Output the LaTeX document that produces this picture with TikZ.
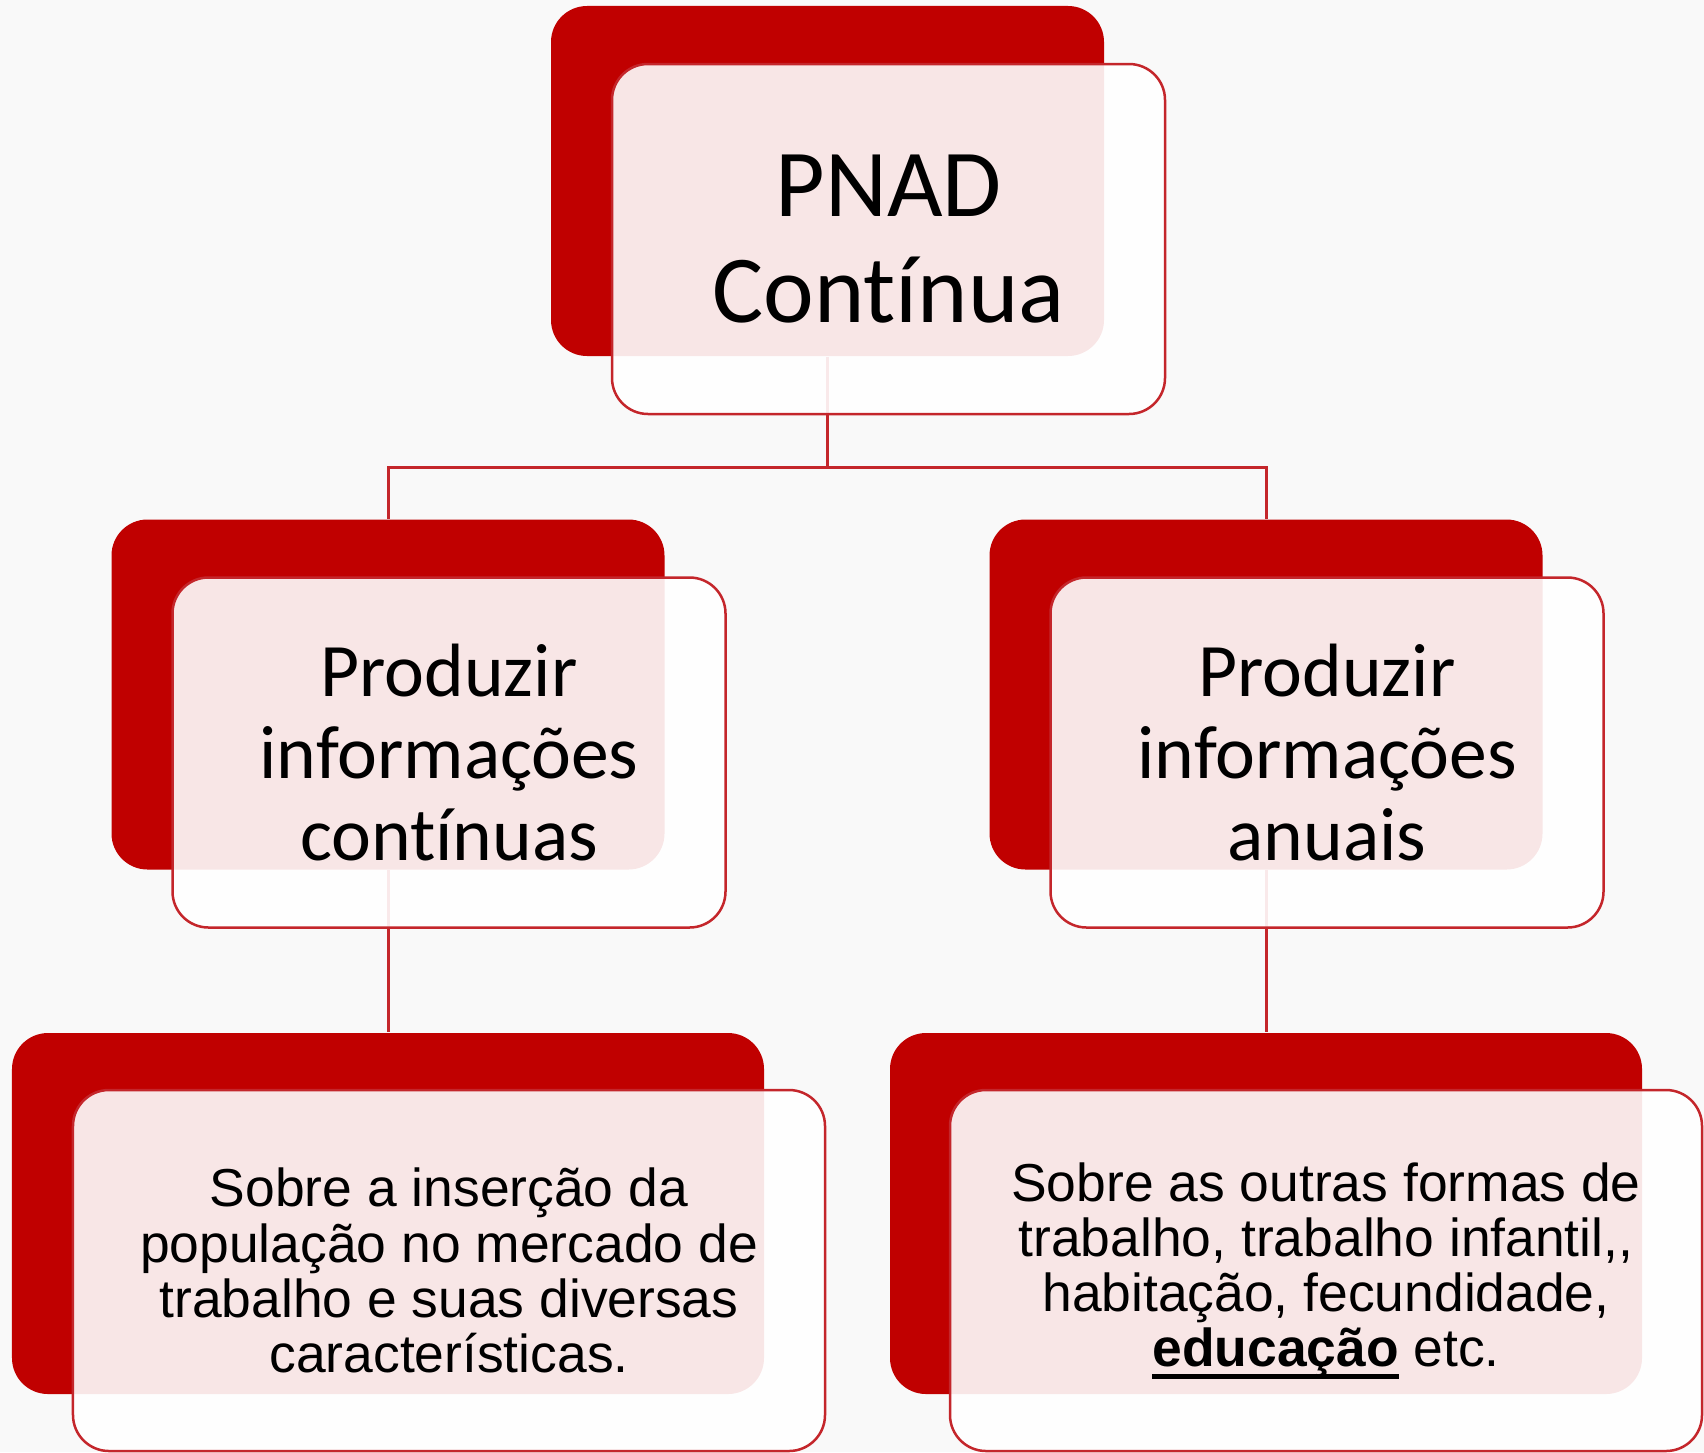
\documentclass[tikz,border=0pt]{standalone}
\usepackage{fontspec}
\setmainfont{Liberation Sans}
\newfontfamily\calibri{Carlito}[Ligatures=NoCommon]
\usetikzlibrary{positioning}

\definecolor{pnadred}{RGB}{192,0,0}
\definecolor{linered}{RGB}{196,38,43}
\definecolor{bggray}{RGB}{249,249,249}

\newcommand{\sublinhado}[1]{\setbox0\hbox{\textbf{#1}}\rlap{\rule[-0.22em]{\wd0}{0.09em}}\box0\relax}

\tikzset{
  back/.style={rectangle, rounded corners=3.6mm, fill=pnadred, inner sep=0pt},
  front/.style={rectangle, rounded corners=3.6mm, draw=linered, line width=0.25mm,
    fill=white, fill opacity=0.9, text opacity=1, align=center, inner sep=0pt},
  small/.style={minimum width=5.53cm, minimum height=3.5cm},
  big/.style={minimum width=7.52cm, minimum height=3.61cm},
  toptext/.style={font=\calibri\fontsize{27.3}{30.2}\selectfont},
  midtext/.style={font=\calibri\fontsize{21.5}{23.2}\selectfont},
  bottext/.style={font=\fontsize{15.2}{15.7}\selectfont},
  link/.style={draw=linered, line width=0.3mm}
}

\begin{document}
\begin{tikzpicture}[node distance=2cm, on grid]
  \fill[bggray] (0,0) rectangle (17.04,-14.52);
  \useasboundingbox (0,0) rectangle (17.04,-14.52);
  % back boxes
  \node[back, small] (pnad_b) at (8.275,-1.81) {};
  \node[back, small] (cont_b) [below left=5.135cm and 4.395cm of pnad_b] {};
  \node[back, small] (anual_b) [below right=5.135cm and 4.385cm of pnad_b] {};
  \node[back, big] (merc_b) [below=5.19cm of cont_b] {};
  \node[back, big] (outr_b) [below=5.19cm of anual_b] {};
  % connectors
  \coordinate[below=2.86cm of pnad_b] (fork);
  \path[link] (pnad_b.south) -- (fork) -| (cont_b.north);
  \path[link] (fork) -| (anual_b.north);
  \path[link] (cont_b) -- (merc_b);
  \path[link] (anual_b) -- (outr_b);
  % front boxes
  \node[front, small, toptext] (pnad) [below right=0.58cm and 0.61cm of pnad_b] {PNAD\\Contínua};
  \node[front, small, midtext] (cont) [below right=0.58cm and 0.61cm of cont_b] {Produzir\\informações\\contínuas};
  \node[front, small, midtext] (anual) [below right=0.58cm and 0.61cm of anual_b] {Produzir\\informações\\anuais};
  \node[front, big, bottext] (merc) [below right=0.57cm and 0.61cm of merc_b]
    {Sobre a inserção da\\população no mercado de\\trabalho e suas diversas\\características.};
  \node[front, big, bottext] (outr) [below right=0.57cm and 0.60cm of outr_b]
    {Sobre as outras formas de\\trabalho, trabalho infantil,{},\\habitação, fecundidade,\\\sublinhado{educação} etc.};
\end{tikzpicture}
\end{document}
